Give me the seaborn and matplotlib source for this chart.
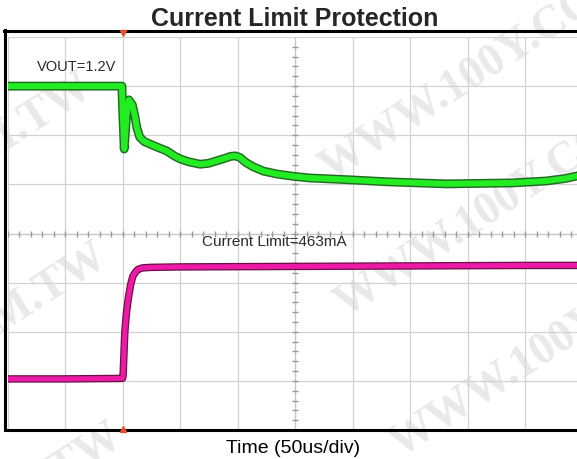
import numpy as np
import pandas as pd
import seaborn as sns
import matplotlib
matplotlib.use("Agg")
import matplotlib.pyplot as plt
import matplotlib.patheffects as pe

# ---- data (in scope divisions) ----
vout_t = [0.0, 1.0, 1.99, 2.00, 2.03, 2.07, 2.11, 2.17, 2.21, 2.25, 2.30, 2.38,
          2.48, 2.60, 2.77, 2.90, 3.00, 3.15, 3.35, 3.50, 3.64, 3.78, 3.88,
          3.96, 4.04, 4.14, 4.27, 4.45, 4.69, 5.00, 5.26, 5.83, 6.65, 7.64,
          8.79, 9.38, 9.70, 9.90, 10.0]
vout_v = [7.0, 7.0, 7.0, 6.6, 5.72, 6.40, 6.72, 6.62, 6.42, 6.15, 5.96, 5.87,
          5.82, 5.76, 5.68, 5.58, 5.52, 5.46, 5.41, 5.43, 5.48, 5.53, 5.57,
          5.58, 5.55, 5.45, 5.36, 5.27, 5.21, 5.16, 5.13, 5.10, 5.05, 5.01,
          5.03, 5.07, 5.12, 5.17, 5.20]

cur_t = [0.0, 1.0, 2.0, 2.01, 2.04, 2.07, 2.10, 2.14, 2.18, 2.23, 2.27, 2.35,
         2.48, 3.0, 5.0, 7.0, 9.0, 10.0]
cur_v = [1.04, 1.04, 1.05, 1.10, 1.99, 2.40, 2.67, 2.95, 3.13, 3.22, 3.27, 3.30,
         3.31, 3.32, 3.33, 3.34, 3.35, 3.35]

trigger_div = 2.0
x_divs = 10
y_divs = 8

title = "Current Limit Protection"
xlabel = "Time (50us/div)"
vout_label = "VOUT=1.2V"
cur_label = "Current Limit=463mA"
watermark = "WWW.100Y.COM.TW"

df_v = pd.DataFrame({"t": vout_t, "v": vout_v})
df_c = pd.DataFrame({"t": cur_t, "v": cur_v})

sns.set_style("white")
plt.rcParams["font.family"] = ["Liberation Sans", "DejaVu Sans"]

W, H = 577, 460
fig = plt.figure(figsize=(W / 100, H / 100), dpi=100)
fig.patch.set_facecolor("white")

# watermarks (figure level, behind the axes)
wm_specs = [
    (330, 182, "left"), (345, 318, "left"), (400, 458, "left"),
    (95, 92, "right"), (110, 262, "right"), (125, 442, "right"),
]
for (px, py, ha) in wm_specs:
    fig.text(px / W, 1 - py / H, watermark, rotation=33, rotation_mode="anchor",
             ha=ha, va="baseline", fontsize=33, fontweight="bold",
             family=["Liberation Serif", "DejaVu Serif"], color="#e9e9e9", zorder=0)

# graticule from x=7.5..582.5 px, y=38..431 px
left, right = 7.5, 582.5
top, bottom = 38, 431
ax = fig.add_axes([left / W, (H - bottom) / H, (right - left) / W, (bottom - top) / H])
ax.set_facecolor("none")
ax.set_zorder(2)

ax.set_xlim(0, x_divs)
ax.set_ylim(0, y_divs)
ax.set_xticks(np.arange(0, x_divs + 1))
ax.set_yticks(np.arange(0, y_divs + 1))
ax.grid(True, color="#d2d2d2", lw=0.9)
ax.tick_params(length=0, labelbottom=False, labelleft=False)

# center-line minor ticks
ax.axvline(x_divs / 2, color="#c8c8c8", lw=0.9, zorder=1)
ax.axhline(y_divs / 2, color="#c8c8c8", lw=0.9, zorder=1)
my = np.arange(0, y_divs, 0.2)
ax.plot(np.full_like(my, x_divs / 2), my, ls="none", marker="_", ms=4,
        mew=1.0, color="#9a9a9a", zorder=1)
mx = np.arange(0, x_divs, 0.2)
ax.plot(mx, np.full_like(mx, y_divs / 2), ls="none", marker="|", ms=4,
        mew=1.0, color="#9a9a9a", zorder=1)

# traces
sns.lineplot(data=df_v, x="t", y="v", ax=ax, estimator=None, sort=False,
             color="#22ec22", lw=4.3, zorder=5,
             path_effects=[pe.Stroke(linewidth=6.4, foreground="#236b23"), pe.Normal()])
sns.lineplot(data=df_c, x="t", y="v", ax=ax, estimator=None, sort=False,
             color="#ec1aa6", lw=3.6, zorder=5,
             path_effects=[pe.Stroke(linewidth=5.4, foreground="#6e1048"), pe.Normal()])

ax.text(0.51, 7.41, vout_label, ha="left", va="center", fontsize=10.5,
        color="#2a2a2a", zorder=6)
ax.text(3.38, 3.85, cur_label, ha="left", va="center", fontsize=11,
        color="#2a2a2a", zorder=6)

# trigger markers
ax.plot([trigger_div], [y_divs + 0.09], marker="v", ms=4, color="#e8502a",
        clip_on=False, zorder=7)
ax.plot([trigger_div], [0.02], marker="^", ms=4, color="#e8502a",
        clip_on=False, zorder=7)

# borders
for s in ["left", "top", "bottom"]:
    ax.spines[s].set_visible(True)
    ax.spines[s].set_color("black")
    ax.spines[s].set_linewidth(2.2)
ax.spines["right"].set_visible(False)
ax.spines["top"].set_position(("outward", 4.3))
ax.spines["left"].set_position(("outward", 1.8))
ax.spines["left"].set_bounds(0, y_divs + 0.135)
ax.spines["top"].set_bounds(-0.06, x_divs)

ax.set_title(title, fontsize=18, fontweight="bold", pad=8.6)
ax.set_xlabel("")
ax.set_ylabel("")
fig.text(293.5 / W, 1 - 453 / H, xlabel, ha="center", va="baseline",
         fontsize=14, color="black", zorder=3)

fig.savefig("out.png", dpi=100)
